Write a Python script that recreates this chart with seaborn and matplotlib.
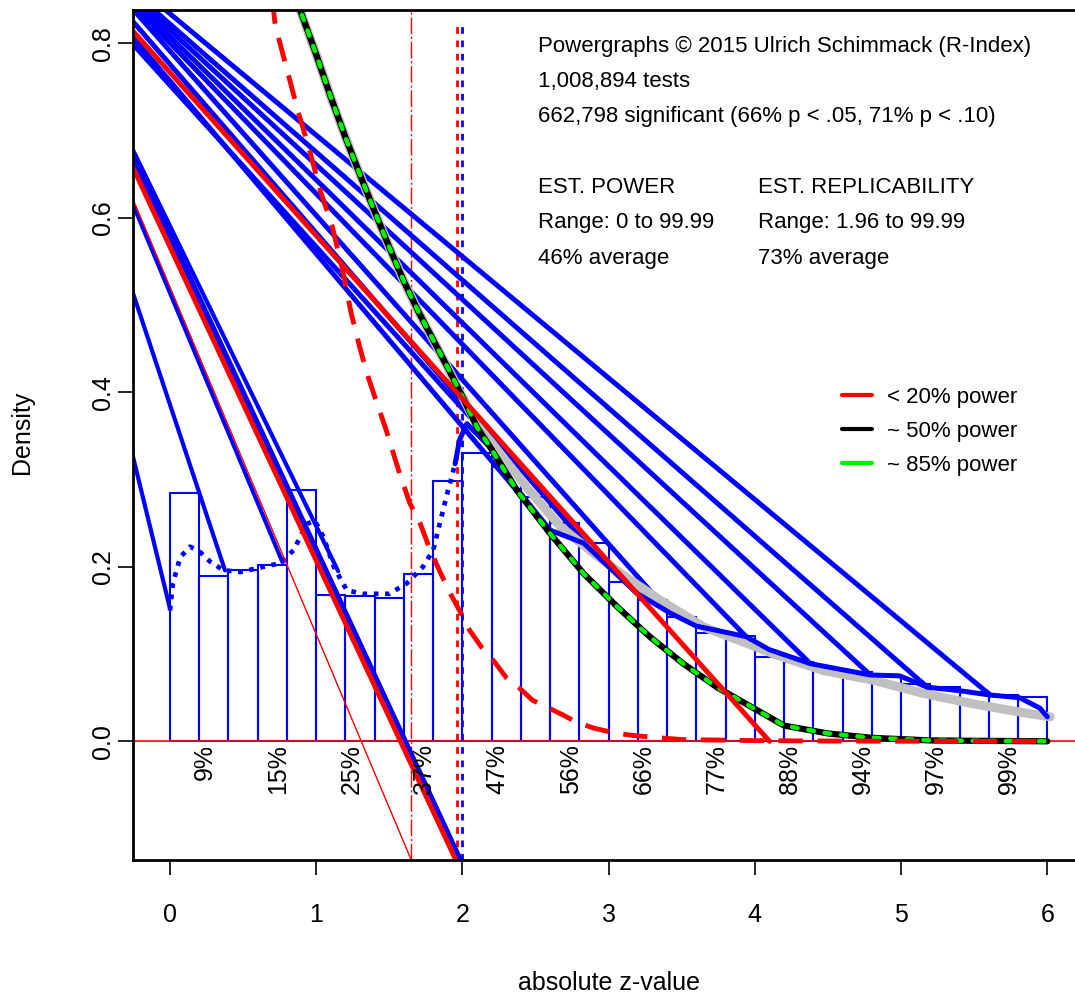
import numpy as np
import pandas as pd
import matplotlib
matplotlib.use("Agg")
import matplotlib.pyplot as plt
import seaborn as sns
from matplotlib.lines import Line2D

# histogram of absolute z-values (bin width 0.2)
bin_edges = [round(v, 1) for v in np.linspace(0, 6, 31)]
hist_height = [0.284, 0.190, 0.196, 0.2025, 0.288, 0.168, 0.1665, 0.1646, 0.192, 0.298,
               0.330, 0.314, 0.280, 0.250, 0.227, 0.183, 0.162, 0.142, 0.124, 0.121,
               0.097, 0.091, 0.083, 0.079, 0.076, 0.066, 0.062, 0.0565, 0.0527, 0.0508]

# kernel density of non-significant part (dotted blue)
kde_x = [0.0, 0.02, 0.07, 0.137, 0.205, 0.274, 0.365, 0.48, 0.64, 0.75, 0.845, 0.935,
         0.99, 1.05, 1.12, 1.21, 1.32, 1.50, 1.62, 1.73, 1.80, 1.89, 1.95]
kde_y = [0.150, 0.181, 0.211, 0.223, 0.217, 0.206, 0.196, 0.194, 0.200, 0.204, 0.219, 0.249,
         0.253, 0.234, 0.200, 0.173, 0.169, 0.169, 0.181, 0.200, 0.219, 0.280, 0.318]

# observed density above 1.96 (solid blue)
obs_x = [1.95, 1.98, 2.03, 2.1, 2.2, 2.37, 2.6, 2.83, 3.0, 3.19, 3.42, 3.6, 3.94, 4.1, 4.38,
         4.6, 4.79, 4.99, 5.18, 5.4, 5.61, 5.81, 5.95, 6.0]
obs_y = [0.318, 0.345, 0.364, 0.352, 0.335, 0.29, 0.242, 0.227, 0.20, 0.17, 0.147, 0.132,
         0.12, 0.105, 0.089, 0.082, 0.076, 0.075, 0.062, 0.058, 0.053, 0.050, 0.038, 0.028]

# model fit curves
fit_x = [0.85, 0.89, 1.0, 1.1, 1.2, 1.3, 1.4, 1.5, 1.6, 1.7, 1.8, 1.9, 2.0, 2.1, 2.19, 2.37,
         2.6, 2.83, 3.06, 3.28, 3.51, 3.74, 3.97, 4.2, 4.5, 4.8, 5.2, 5.6, 6.0]
fit_y = [0.87, 0.838, 0.787, 0.738, 0.692, 0.649, 0.607, 0.566, 0.527, 0.492, 0.46, 0.428,
         0.395, 0.36, 0.337, 0.288, 0.238, 0.192, 0.154, 0.12, 0.089, 0.062, 0.040, 0.018,
         0.009, 0.004, 0.001, 0.0005, 0.0]

gray_x = [0.85, 0.89, 1.0, 1.1, 1.2, 1.3, 1.4, 1.5, 1.6, 1.7, 1.8, 1.9, 2.0, 2.1, 2.2,
          2.44, 2.67, 2.9, 3.12, 3.35, 3.65, 3.95, 4.13, 4.47, 4.81, 5.15, 5.49, 5.83, 6.02]
gray_y = [0.87, 0.838, 0.787, 0.738, 0.692, 0.649, 0.607, 0.566, 0.527, 0.492, 0.46, 0.428,
          0.395, 0.362, 0.342, 0.291, 0.246, 0.215, 0.188, 0.162, 0.131, 0.112, 0.100,
          0.081, 0.070, 0.055, 0.043, 0.033, 0.028]

low_x = [0.70, 0.72, 0.80, 0.87, 0.95, 1.03, 1.11, 1.18, 1.24, 1.30, 1.35, 1.39, 1.48, 1.57,
         1.64, 1.71, 1.78, 1.85, 1.915, 1.98, 2.05, 2.13, 2.21, 2.3, 2.39, 2.48, 2.58, 2.69,
         2.78, 2.9, 3.03, 3.15, 3.28, 3.5, 4.0, 4.5, 5.0, 6.0]
low_y = [0.85, 0.82, 0.77, 0.725, 0.68, 0.63, 0.59, 0.54, 0.49, 0.45, 0.42, 0.40, 0.356,
         0.307, 0.273, 0.25, 0.219, 0.193, 0.17, 0.15, 0.127, 0.108, 0.093, 0.073, 0.061,
         0.047, 0.039, 0.030, 0.022, 0.015, 0.010, 0.007, 0.005, 0.002, 0.0008, 0.0003,
         0.0001, 0.0]

# straight line artefacts: start at left edge, end on the curves
left_x = -0.26
upper_start = [0.870, 0.860, 0.855, 0.850, 0.845, 0.840, 0.826, 0.808, 0.800]
upper_end_x = [5.61, 5.18, 4.79, 4.38, 3.94, 3.42, 2.85, 2.60, 2.05]
upper_end_y = [0.053, 0.062, 0.076, 0.089, 0.120, 0.147, 0.225, 0.242, 0.372]

lower_start = [0.331, 0.517, 0.618, 0.680, 0.676, 0.670]
lower_end_x = [0.0, 0.376, 0.77, 1.15, 1.99, 1.985]
lower_end_y = [0.152, 0.196, 0.205, 0.195, -0.136, -0.136]

red_start = [0.815, 0.660]
red_end_x = [4.10, 1.955]
red_end_y = [0.0, -0.136]
thin_red_start = 0.624
thin_red_end = (1.65, -0.136)

crit_z = [1.645, 1.96, 2.0]

pct_x = [0.24, 0.74, 1.24, 1.74, 2.24, 2.74, 3.24, 3.74, 4.24, 4.74, 5.24, 5.74]
pct_labels = ["9%", "15%", "25%", "37%", "47%", "56%", "66%", "77%", "88%", "94%", "97%", "99%"]

info_left = ["Powergraphs \u00a9 2015 Ulrich Schimmack (R-Index)", "1,008,894 tests",
             "662,798 significant (66% p < .05, 71% p < .10)",
             "EST. POWER", "Range: 0 to 99.99", "46% average"]
info_right = ["EST. REPLICABILITY", "Range: 1.96 to 99.99", "73% average"]
info_y = [0.790, 0.750, 0.710, 0.628, 0.588, 0.547]


def seg_frame(starts, end_x, end_y):
    rows = []
    for i, (y0, x1, y1) in enumerate(zip(starts, end_x, end_y)):
        rows.append({"seg": i, "x": left_x, "y": y0})
        rows.append({"seg": i, "x": x1, "y": y1})
    return pd.DataFrame(rows)


sns.set_style("ticks", {"axes.edgecolor": "black", "xtick.color": "black",
                        "ytick.color": "black", "text.color": "black",
                        "axes.labelcolor": "black"})
plt.rcParams['font.family'] = ['Liberation Sans', 'DejaVu Sans']

fig = plt.figure(figsize=(10.75, 9.94), dpi=100)
ax = fig.add_axes([133 / 1075, 134 / 994, 945 / 1075, 850 / 994])

hist_df = pd.DataFrame({
    "mid": [(a + b) / 2 for a, b in zip(bin_edges[:-1], bin_edges[1:])],
    "height": hist_height,
})
sns.histplot(data=hist_df, x="mid", weights="height", bins=bin_edges, stat="count",
             fill=False, color="blue", linewidth=1.5, ax=ax)

ax.axhline(0, color="red", lw=1.2)
ax.axvline(crit_z[0], color="red", lw=1.0, ls=(0, (12, 2, 1.5, 2)))
ax.axvline(crit_z[1], ymax=0.988, color="red", lw=2.0, ls=(0, (2.4, 2.4)))
ax.axvline(crit_z[2], ymax=0.988, color="blue", lw=2.0, ls=(0, (2.4, 2.4)))

sns.lineplot(x=kde_x, y=kde_y, estimator=None, sort=False, color="blue", lw=3.4,
             ls=(0, (1, 1.4)), ax=ax)

lower_df = seg_frame(lower_start, lower_end_x, lower_end_y)
sns.lineplot(data=lower_df, x="x", y="y", units="seg", estimator=None, color="blue",
             lw=3.0, ax=ax, legend=False)
sns.lineplot(x=[left_x, thin_red_end[0]], y=[thin_red_start, thin_red_end[1]],
             estimator=None, color="red", lw=1.0, ax=ax)

upper_df = seg_frame(upper_start, upper_end_x, upper_end_y)
sns.lineplot(data=upper_df, x="x", y="y", units="seg", estimator=None, color="blue",
             lw=3.6, ax=ax, legend=False)

sns.lineplot(x=gray_x, y=gray_y, estimator=None, sort=False, color="#c0c0c0", lw=6.5, ax=ax)
sns.lineplot(x=obs_x, y=obs_y, estimator=None, sort=False, color="blue", lw=3.6, ax=ax)
sns.lineplot(x=fit_x, y=fit_y, estimator=None, sort=False, color="black", lw=4.5, ax=ax)
sns.lineplot(x=fit_x, y=fit_y, estimator=None, sort=False, color="#00ee00", lw=3.3,
             ls=(0, (1.2, 2.4)), dash_capstyle="round", ax=ax)
sns.lineplot(x=low_x, y=low_y, estimator=None, sort=False, color="red", lw=3.5,
             ls=(0, (5, 3)), ax=ax)

red_df = seg_frame(red_start, red_end_x, red_end_y)
sns.lineplot(data=red_df, x="x", y="y", units="seg", estimator=None, color="red",
             lw=3.6, ax=ax, legend=False)

for px, lab in zip(pct_x, pct_labels):
    ax.text(px, -0.003, lab, rotation=90, ha="center", va="top", fontsize=18)

for i, txt in enumerate(info_left):
    ax.text(2.517, info_y[i], txt, fontsize=16, va="baseline")
for i, txt in enumerate(info_right):
    ax.text(4.02, info_y[i + 3], txt, fontsize=16, va="baseline")

handles = [Line2D([], [], color="red", lw=3),
           Line2D([], [], color="black", lw=3),
           Line2D([], [], color="#00ee00", lw=3)]
ax.legend(handles, ["< 20% power", "~ 50% power", "~ 85% power"], loc="upper left",
          bbox_to_anchor=(0.738, 0.570), frameon=False, fontsize=16, borderpad=0,
          handlelength=1.35, handletextpad=0.7, labelspacing=0.6)

ax.set_xlim(-0.253, 6.21)
ax.set_ylim(-0.136, 0.838)
ax.set_xticks([0, 1, 2, 3, 4, 5, 6])
ax.set_yticks([0.0, 0.2, 0.4, 0.6, 0.8])
ax.set_yticklabels(["0.0", "0.2", "0.4", "0.6", "0.8"])
ax.tick_params(axis="both", direction="out", length=11, width=1.2, labelsize=18)
ax.tick_params(axis="x", pad=20)
ax.tick_params(axis="y", pad=2)
for lab in ax.get_yticklabels():
    lab.set_rotation(90)
    lab.set_va("center")

ax.set_xlabel("absolute z-value", fontsize=18)
ax.set_ylabel("Density", fontsize=18)
ax.xaxis.set_label_coords(0.5 + (609 - 133 - 472.5) / 945, -0.130)
ax.yaxis.set_label_coords(-0.105, 0.5 + (860 - 432 - 425) / 850)

for side in ["left", "bottom", "top"]:
    ax.spines[side].set_linewidth(2)
ax.spines["right"].set_visible(False)

fig.savefig("out.png", dpi=100)
